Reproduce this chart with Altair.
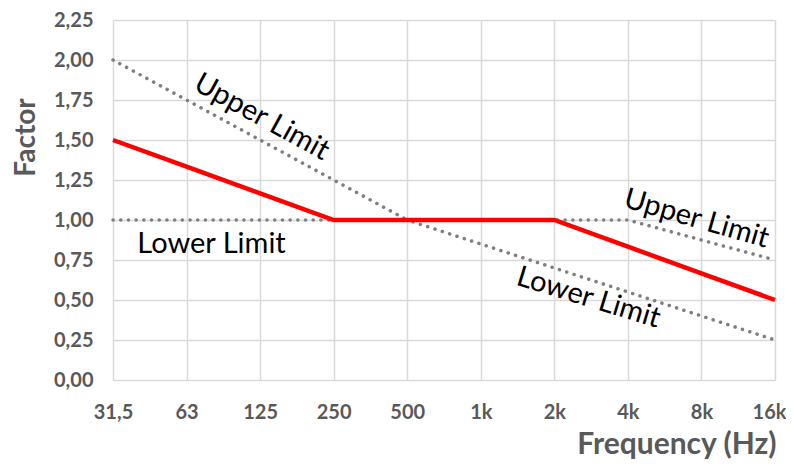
import altair as alt
import pandas as pd

categories = ["31,5", "63", "125", "250", "500", "1k", "2k", "4k", "8k", "16k"]
factor = [1.5, 1.333, 1.167, 1.0, 1.0, 1.0, 1.0, 0.833, 0.667, 0.5]
upper_limit = [2.0, 1.75, 1.5, 1.25, 1.0, 1.0, 1.0, 1.0, 0.875, 0.75]
lower_limit = [1.0, 1.0, 1.0, 1.0, 1.0, 0.85, 0.70, 0.55, 0.40, 0.25]
y_ticks = [0, 0.25, 0.5, 0.75, 1.0, 1.25, 1.5, 1.75, 2.0, 2.25]

ann_text = ["Upper Limit", "Lower Limit", "Upper Limit", "Lower Limit"]
ann_x = ["125", "63", "8k", "4k"]
ann_y = [1.65, 0.85, 1.0, 0.44]

df_factor = pd.DataFrame({"freq": categories, "value": factor, "series": "Factor"})
df_limits = pd.concat([
    pd.DataFrame({"freq": categories, "value": upper_limit, "series": "Upper"}),
    pd.DataFrame({"freq": categories, "value": lower_limit, "series": "Lower"}),
])

FONT = "Lato"
GRAY = "#595959"

x_enc = alt.X(
    "freq:N", sort=categories,
    scale=alt.Scale(type="point", padding=0),
    axis=alt.Axis(
        title="Frequency (Hz)", labelAngle=0, grid=True, gridColor="#d9d9d9", gridWidth=1.5,
        domain=False, ticks=False, labelPadding=22, labelFont=FONT, labelFontSize=20,
        labelFontWeight="bold", labelColor=GRAY, labelOverlap=False, labelBound=False,
        labelAlign={"condition": {"test": "datum.value == '16k'", "value": "right"}, "value": "center"},
        labelOffset={"condition": {"test": "datum.value == '16k'", "value": 11}, "value": 0},
        titleFont=FONT, titleFontSize=30,
        titleFontWeight="bold", titleColor=GRAY, titleAlign="right", titleAnchor="end",
        titleX=663, titleY=73, titleBaseline="alphabetic",
    ),
)
y_enc = alt.Y(
    "value:Q",
    scale=alt.Scale(domain=[0, 2.25], nice=False),
    axis=alt.Axis(
        title="Factor", values=y_ticks, grid=True, gridColor="#d9d9d9", gridWidth=1.5,
        domain=False, ticks=False, labelPadding=20, labelFont=FONT, labelFontSize=20,
        labelFontWeight="bold", labelColor=GRAY, labelOverlap=False,
        labelExpr="replace(format(datum.value, '.2f'), '.', ',')",
        titleFont=FONT, titleFontSize=28, titleFontWeight="bold", titleColor=GRAY,
        titleAngle=-90, titleX=-79, titleY=117, titleAlign="center", titleBaseline="alphabetic",
    ),
)

limits = alt.Chart(df_limits).mark_line(
    color="#7f7f7f", strokeWidth=3.5, strokeCap="round", strokeDash=[0.1, 7.6]
).encode(x=x_enc, y=y_enc, detail="series:N")

red = alt.Chart(df_factor).mark_line(color="#ff0000", strokeWidth=4.5).encode(x=x_enc, y=y_enc)

offsets = [(2, 28.7), (25, 0), (-5, 16), (-41, 17)]
texts = []
for i, (dx, ang) in enumerate(offsets):
    d = pd.DataFrame({"freq": [ann_x[i]], "value": [ann_y[i]], "label": [ann_text[i]]})
    texts.append(
        alt.Chart(d).mark_text(
            font=FONT, fontSize=29, color="#000000", dx=dx, angle=ang,
            align="center", baseline="middle"
        ).encode(x=x_enc, y=y_enc, text="label:N")
    )

chart = alt.layer(limits, red, *texts).properties(
    width=662, height=360,
    autosize=alt.AutoSizeParams(type="none"),
    padding={"left": 105, "top": 12, "right": 11, "bottom": 80},
).configure(background="white").configure_view(stroke=None)

chart.save("out.html", embed_options={"renderer": "svg", "actions": False})
